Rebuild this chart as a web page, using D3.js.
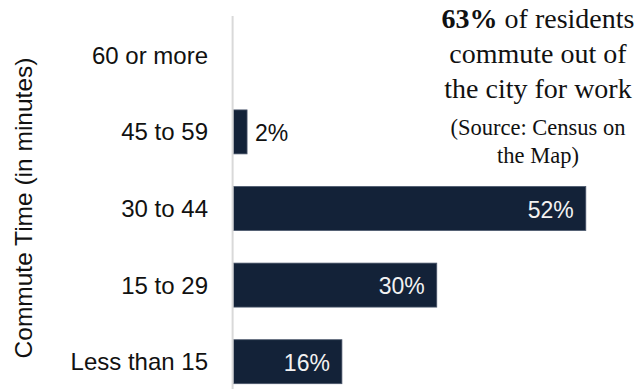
<!DOCTYPE html>
<html>
<head>
<meta charset="utf-8">
<script src="https://cdn.jsdelivr.net/npm/d3@7"></script>
<style>
  html, body { margin: 0; padding: 0; background: #fff; }
  svg { display: block; }
</style>
</head>
<body>
<svg id="chart" width="639" height="389"></svg>
<script>
// Commute time categories (top to bottom) and share of residents
const categories = ["60 or more", "45 to 59", "30 to 44", "15 to 29", "Less than 15"];
const shares = [0, 2, 52, 30, 16];
const axisTitle = "Commute Time (in minutes)";
const noteLines = ["commute out of", "the city for work"];
const sourceLines = ["(Source: Census on", "the Map)"];

const data = categories.map((c, i) => ({ category: c, value: shares[i] }));

const svg = d3.select("#chart");
const barColor = "#132238";
const sansFont = "'Liberation Sans', Arial, sans-serif";
const serifFont = "'Liberation Serif', 'Times New Roman', serif";

const x = d3.scaleLinear().domain([0, 60]).range([233.5, 640]);
const y = d3.scaleBand()
  .domain(categories)
  .range([17, 400])
  .paddingInner(0.426)
  .paddingOuter(0.213);

// Bars
svg.append("g").selectAll("rect")
  .data(data.filter(d => d.value > 0))
  .join("rect")
  .attr("x", x(0))
  .attr("y", d => y(d.category))
  .attr("width", d => x(d.value) - x(0))
  .attr("height", y.bandwidth())
  .attr("fill", barColor)
  .attr("stroke", "#4a566b")
  .attr("stroke-width", 0.8);

// Category axis: only the vertical rule and the labels
const yAxis = d3.axisLeft(y).tickSize(0).tickPadding(0);
const gy = svg.append("g")
  .attr("transform", "translate(208,0)")
  .call(yAxis);
gy.select(".domain").remove();
gy.selectAll("text")
  .attr("font-family", sansFont)
  .attr("font-size", 24)
  .attr("fill", "#111")
  .attr("dy", null)
  .attr("dominant-baseline", "central");

svg.append("line")
  .attr("x1", 232.6).attr("x2", 232.6)
  .attr("y1", 16).attr("y2", 389)
  .attr("stroke", "#d9d9d9")
  .attr("stroke-width", 2);

// Value labels: inside the bar when it is wide enough, otherwise just after it
svg.append("g").selectAll("text")
  .data(data.filter(d => d.value > 0))
  .join("text")
  .attr("font-family", sansFont)
  .attr("font-size", 23)
  .attr("dominant-baseline", "central")
  .attr("y", d => y(d.category) + y.bandwidth() / 2 + 1)
  .each(function (d) {
    const inside = d.value >= 10;
    d3.select(this)
      .attr("x", inside ? x(d.value) - 12 : x(d.value) + 8)
      .attr("text-anchor", inside ? "end" : "start")
      .attr("fill", inside ? "#f2f2f2" : "#111");
  })
  .text(d => d.value + "%");

// Axis title
svg.append("text")
  .attr("transform", "translate(23,208) rotate(-90)")
  .attr("text-anchor", "middle")
  .attr("dominant-baseline", "central")
  .attr("font-family", sansFont)
  .attr("font-size", 24.5)
  .attr("fill", "#111")
  .text(axisTitle);

// Annotation
const noteX = 538;
const head = svg.append("text")
  .attr("x", noteX).attr("y", 28)
  .attr("text-anchor", "middle")
  .attr("font-family", serifFont)
  .attr("font-size", 28)
  .attr("fill", "#111");
head.append("tspan").attr("font-weight", "bold").text("63%");
head.append("tspan").text(" of residents");

svg.append("g").selectAll("text")
  .data(noteLines)
  .join("text")
  .attr("x", noteX)
  .attr("y", (d, i) => 63 + i * 34.5)
  .attr("text-anchor", "middle")
  .attr("font-family", serifFont)
  .attr("font-size", 28)
  .attr("fill", "#111")
  .text(d => d);

svg.append("g").selectAll("text")
  .data(sourceLines)
  .join("text")
  .attr("x", noteX)
  .attr("y", (d, i) => 135 + i * 28)
  .attr("text-anchor", "middle")
  .attr("font-family", serifFont)
  .attr("font-size", 22.5)
  .attr("fill", "#111")
  .text(d => d);
</script>
</body>
</html>
